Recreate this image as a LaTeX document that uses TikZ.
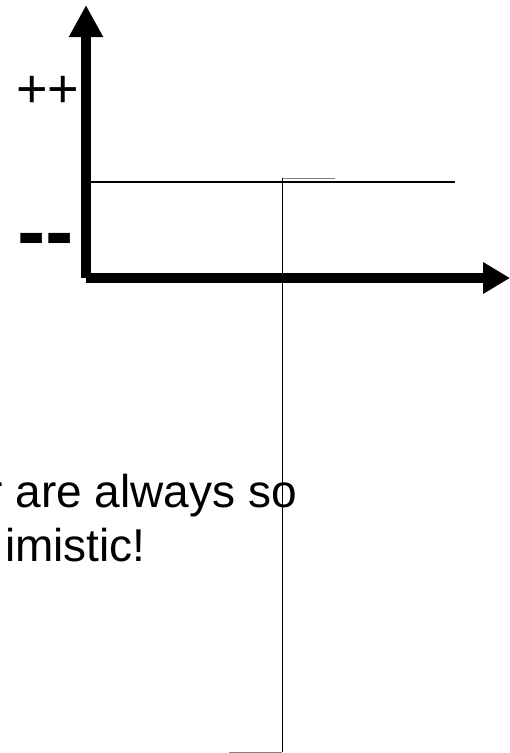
\documentclass[tikz,border=0pt]{standalone}
\usepackage{fontspec}
\setmainfont{Liberation Sans}
\usepackage{tikz}
\usetikzlibrary{arrows.meta}

\begin{document}
\begin{tikzpicture}[x=1pt,y=-1pt,
    axis/.style={line width=10pt},
    every node/.style={inner sep=0pt,anchor=base west}]
  \useasboundingbox (0,0) rectangle (510,753);
  \clip (0,0) rectangle (510,753);

  \coordinate (origin) at (86,278);
  \coordinate (ytop) at (86,5);
  \coordinate (xend) at (510,278);

  % axes
  \draw[axis,-{Triangle[length=32pt,width=32pt]}] (origin) -- (ytop);
  \draw[axis,-{Triangle[length=27pt,width=30pt]}] (origin) -- (xend);

  \node (plus) at (16,107) {\fontsize{54}{60}\selectfont ++};
  \node (minus) at (17.3,260) {\fontsize{85}{90}\selectfont\bfseries -{}-};

  % level line
  \coordinate (lvlstart) at (91,182);
  \coordinate (lvlend) at (455,182);
  \draw[line width=1.6pt] (lvlstart) -- (lvlend);

  % bracket
  \coordinate (brtop) at (282,178);
  \coordinate (brtopend) at (335,178);
  \coordinate (brbot) at (282,752);
  \coordinate (brbotend) at (229,752);
  \draw[gray,line width=0.9pt] (brtopend) -- (brtop);
  \draw[gray,line width=0.9pt] (brbot) -- (brbotend);
  \draw[line width=0.9pt] (brtop) -- (brbot);

  \node (line1) at (-12.8,507.5) {\fontsize{46}{54}\selectfont r are always so};
  \node (line2) at (5,561.7) {\fontsize{46}{54}\selectfont imistic!};
\end{tikzpicture}
\end{document}
